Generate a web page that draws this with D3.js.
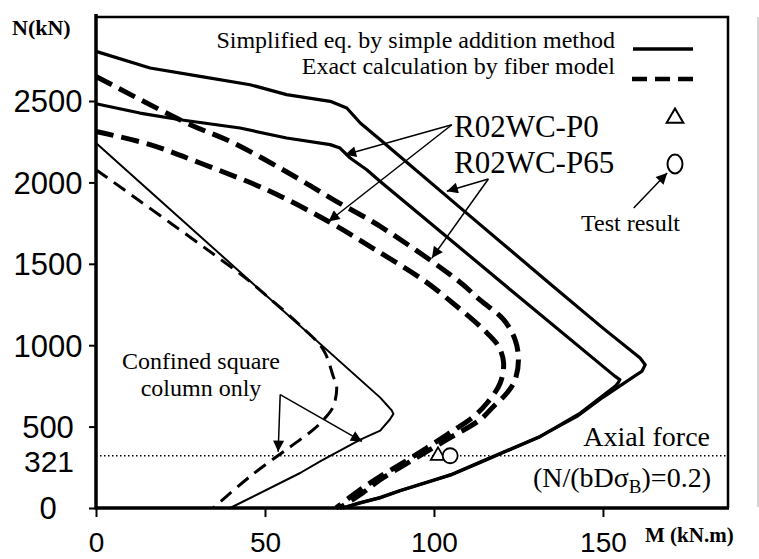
<!DOCTYPE html>
<meta charset="utf-8">
<script src="https://cdn.jsdelivr.net/npm/d3@7"></script>
<style>
  body { margin: 0; background: #fff; }
</style>
<div id="chart"></div>
<script>

// ticks
var xTicks = [0, 50, 100, 150];
var yTicks = [0, 500, 1000, 1500, 2000, 2500];
var axialLevel = 321;   // N/(bD sigmaB)=0.2

// curves, [M (kN.m), N (kN)]
// R02WC-P65, simplified eq. (outer solid)
var p65Simple = [[0,2805],[16,2703],[30.8,2651],[45.6,2600],[56.4,2539],[69.3,2498],[74.2,2457],[78.2,2365],[84.1,2262],
  [110,1805],[135.3,1361],[150,1105],[161,921],[162.5,880],[161.5,839],[160,819],[150,680],[142.3,563],[131.4,440],
  [113.7,282],[105,205],[100,172],[90,108],[84,64],[78,32],[73,0]];
// R02WC-P0, simplified eq. (inner solid)
var p0Simple = [[0,2483],[13,2426],[24.9,2385],[42.6,2334],[56.4,2273],[69.3,2232],[72.2,2211],[75.2,2150],[80.1,2078],
  [84.1,2006],[122.6,1341],[153.5,810],[155,789],[154.5,770],[153.6,747],[143.3,583],[131.4,438],[113.7,280],[105,203],
  [100,170],[90,106],[84,62],[78,30],[73,0]];
// R02WC-P65, fiber model (outer dashed)
var p65Fiber = [[0,2651],[26.8,2365],[40.6,2243],[60.4,2017],[70.2,1894],[84.1,1730],[106.9,1400],[113.7,1277],
  [120.6,1157],[124,1034],[125,911],[124,788],[121.6,706],[117.6,624],[113.7,543],[103.8,420],[93.9,297],[84.1,174],
  [79,94],[72,0]];
// R02WC-P0, fiber model (inner dashed)
var p0Fiber = [[0,2313],[16,2232],[30.8,2119],[50.5,1955],[68.8,1760],[84.1,1568],[96.9,1400],[106.8,1238],[114.7,1095],
  [119.1,993],[120.6,891],[119.6,768],[115.7,645],[111.8,563],[103.8,450],[93.9,317],[84.1,194],[78,110],[71,0]];
// confined square column only
var colSimple = [[0,2242],[84.1,678],[86,634],[87.5,600],[88,578],[87,545],[84.1,475],[78.2,420],[66.3,286],[60.4,215],[39.7,0]];
var colFiber = [[0,2078],[43.6,1423],[50,1312],[60.4,1122],[67.3,971],[70.2,808],[71.2,747],[70.2,624],[67.8,553],
  [64.3,481],[60.4,420],[45.6,194],[34.7,0]];

// test results (triangle = P0, circle = P65)
var testM = [101.2, 104.8];
var testN = [321, 321];

// annotation arrows [fromM, fromN, toM, toN]
var arrowsP0 = [[105.3,2354,73.7,2170],[105.3,2354,68.8,1760]];
var arrowsP65 = [[116.1,2021,103.8,1946],[116.1,2021,99.4,1536]];
var arrowsCol = [[54.5,697,53.9,346],[54.5,697,78.7,409]];
var arrowTest = [[159.1,1843,169,2058]];

var margin = {top: 17, right: 31, bottom: 51, left: 96},
    width = 759 - margin.left - margin.right,
    height = 559 - margin.top - margin.bottom;

var serif = "'Liberation Serif', 'Times New Roman', serif";
var sans = "'Liberation Sans', Arial, sans-serif";

var root = d3.select("#chart")
  .append("svg")
    .attr("width", 759)
    .attr("height", 559);

var svg = root.append("g")
    .attr("transform", "translate(" + margin.left + "," + margin.top + ")");

var x = d3.scaleLinear().domain([0, 187]).range([0, width]);
var y = d3.scaleLinear().domain([0, 3016]).range([height, 0]);

// arrow head
root.append("defs").append("marker")
    .attr("id", "head")
    .attr("viewBox", "0 0 10 10")
    .attr("refX", 10).attr("refY", 5)
    .attr("markerWidth", 15).attr("markerHeight", 11)
    .attr("markerUnits", "userSpaceOnUse")
    .attr("orient", "auto")
  .append("path")
    .attr("d", "M0,0 L10,5 L0,10 z")
    .attr("fill", "#000");

// box (top + right)
svg.append("path")
  .attr("d", "M0,0 H" + width + " V" + height)
  .attr("fill", "none").attr("stroke", "#000").attr("stroke-width", 2.5);

// faint line at the far right
root.append("line")
  .attr("x1", 758).attr("x2", 758).attr("y1", 17).attr("y2", 507)
  .attr("stroke", "#aaa").attr("stroke-width", 1);

// Y axis
var yAxis = svg.append("g")
  .call(d3.axisLeft(y).tickValues(yTicks).tickSize(7).tickPadding(0).tickFormat(d3.format("d")));
yAxis.select(".domain").remove();
yAxis.selectAll("line").attr("stroke-width", 2);
yAxis.selectAll("text")
  .attr("x", -48).attr("dy", "0.35em")
  .attr("text-anchor", "middle")
  .style("font-family", sans).style("font-size", "31px");

svg.append("text")
  .attr("x", -47).attr("y", y(axialLevel)).attr("dy", "0.55em")
  .attr("text-anchor", "middle")
  .style("font-family", sans).style("font-size", "30px")
  .text(axialLevel);

// X axis
var xAxis = svg.append("g")
  .attr("transform", "translate(0," + height + ")")
  .call(d3.axisBottom(x).tickValues(xTicks).tickSize(9));
xAxis.select(".domain").remove();
xAxis.selectAll("line").attr("stroke-width", 2);
xAxis.selectAll("text")
  .attr("y", 44).attr("dy", 0)
  .style("font-family", sans).style("font-size", "28px");

// axis lines
svg.append("line").attr("x1", 0).attr("x2", 0).attr("y1", -3).attr("y2", height + 1.5)
  .attr("stroke", "#000").attr("stroke-width", 3.5);
svg.append("line").attr("x1", 0).attr("x2", width + 1).attr("y1", height).attr("y2", height)
  .attr("stroke", "#000").attr("stroke-width", 3.5);

// axis titles
root.append("text").attr("x", 12).attr("y", 35)
  .style("font-family", serif).style("font-weight", "bold").style("font-size", "22px")
  .text("N(kN)");
root.append("text").attr("x", 645).attr("y", 542)
  .style("font-family", serif).style("font-weight", "bold").style("font-size", "21px")
  .text("M (kN.m)");

// dotted axial force level
svg.append("line")
  .attr("x1", 0).attr("x2", width)
  .attr("y1", y(axialLevel)).attr("y2", y(axialLevel))
  .attr("stroke", "#000").attr("stroke-width", 1.3)
  .attr("stroke-dasharray", "1.5,2.5");

// curves
var line = d3.line()
  .x(function(d) { return x(d[0]); })
  .y(function(d) { return y(d[1]); });
var smooth = d3.line()
  .curve(d3.curveCatmullRom.alpha(0.5))
  .x(function(d) { return x(d[0]); })
  .y(function(d) { return y(d[1]); });

function curve(data, gen, w, dash) {
  svg.append("path")
    .datum(data)
    .attr("d", gen)
    .attr("fill", "none")
    .attr("stroke", "#000")
    .attr("stroke-width", w)
    .attr("stroke-linejoin", "round")
    .attr("stroke-dasharray", dash);
}

curve(colSimple, line, 2, null);
curve(colFiber, smooth, 3, "14,8");
curve(p65Simple, line, 3.2, null);
curve(p0Simple, line, 3.2, null);
curve(p65Fiber, smooth, 5, "18,8");
curve(p0Fiber, smooth, 5, "18,8");

// test results
svg.append("path")
  .attr("d", d3.symbol().type(d3.symbolTriangle).size(90))
  .attr("transform", "translate(" + x(testM[0]) + "," + y(testN[0]) + ")")
  .attr("fill", "#fff").attr("stroke", "#000").attr("stroke-width", 1.8);
svg.append("circle")
  .attr("cx", x(testM[1])).attr("cy", y(testN[1])).attr("r", 7.5)
  .attr("fill", "#fff").attr("stroke", "#000").attr("stroke-width", 1.8);

// arrows
function arrows(list, w) {
  svg.selectAll(null)
    .data(list)
    .enter()
    .append("line")
      .attr("x1", function(d) { return x(d[0]); })
      .attr("y1", function(d) { return y(d[1]); })
      .attr("x2", function(d) { return x(d[2]); })
      .attr("y2", function(d) { return y(d[3]); })
      .attr("stroke", "#000")
      .attr("stroke-width", w)
      .attr("marker-end", "url(#head)");
}
arrows(arrowsP0, 1.5);
arrows(arrowsP65, 1.5);
arrows(arrowsCol, 1.5);
arrows(arrowTest, 1.5);

// legend
root.append("text").attr("x", 615).attr("y", 48).attr("text-anchor", "end")
  .style("font-family", serif).style("font-size", "24px")
  .text("Simplified eq. by simple addition method");
root.append("text").attr("x", 615).attr("y", 74).attr("text-anchor", "end")
  .style("font-family", serif).style("font-size", "24px")
  .text("Exact calculation by fiber model");
root.append("line").attr("x1", 633).attr("x2", 693).attr("y1", 49).attr("y2", 49)
  .attr("stroke", "#000").attr("stroke-width", 3.5);
root.append("line").attr("x1", 632).attr("x2", 694).attr("y1", 79).attr("y2", 79)
  .attr("stroke", "#000").attr("stroke-width", 4.5).attr("stroke-dasharray", "15,8");

root.append("path")
  .attr("d", d3.symbol().type(d3.symbolTriangle).size(120))
  .attr("transform", "translate(675,118)")
  .attr("fill", "none").attr("stroke", "#000").attr("stroke-width", 2);
root.append("ellipse")
  .attr("cx", 675).attr("cy", 164).attr("rx", 7.5).attr("ry", 9.5)
  .attr("fill", "none").attr("stroke", "#000").attr("stroke-width", 2);

// labels
root.append("text").attr("x", 454).attr("y", 137)
  .style("font-family", serif).style("font-size", "31px")
  .text("R02WC-P0");
root.append("text").attr("x", 454).attr("y", 173)
  .style("font-family", serif).style("font-size", "31px")
  .text("R02WC-P65");
root.append("text").attr("x", 581).attr("y", 231)
  .style("font-family", serif).style("font-size", "24px")
  .text("Test result");
root.append("text").attr("x", 201).attr("y", 369).attr("text-anchor", "middle")
  .style("font-family", serif).style("font-size", "24px")
  .text("Confined square");
root.append("text").attr("x", 201).attr("y", 396).attr("text-anchor", "middle")
  .style("font-family", serif).style("font-size", "24px")
  .text("column only");
root.append("text").attr("x", 710).attr("y", 446).attr("text-anchor", "end")
  .style("font-family", serif).style("font-size", "28px")
  .text("Axial force");

var ratio = root.append("text").attr("x", 711).attr("y", 487).attr("text-anchor", "end")
  .style("font-family", serif).style("font-size", "28px");
ratio.append("tspan").text("(N/(bD\u03c3");
ratio.append("tspan").attr("dy", 6).style("font-size", "19px").text("B");
ratio.append("tspan").attr("dy", -6).text(")=0.2)");

</script>
